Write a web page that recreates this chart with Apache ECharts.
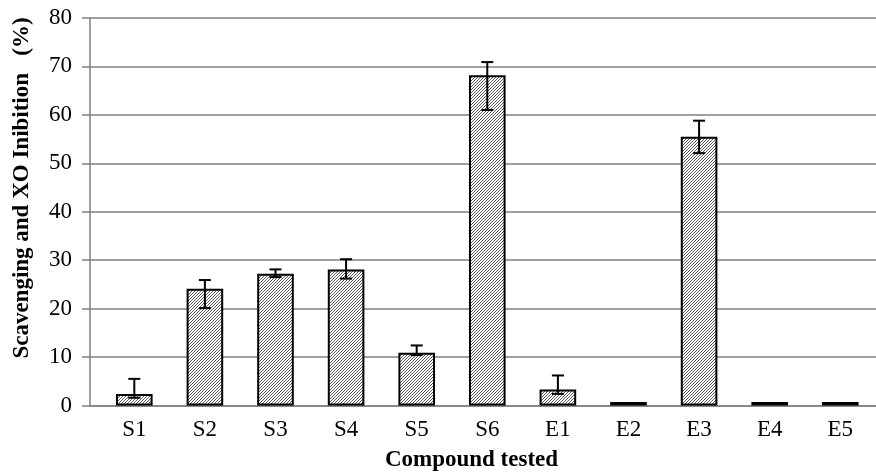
<!DOCTYPE html>
<html>
<head>
<meta charset="utf-8">
<script src="https://cdn.jsdelivr.net/npm/echarts@6/dist/echarts.min.js"></script>
<style>html,body{margin:0;padding:0;background:#fff;}#c{width:876px;height:474px;}</style>
</head>
<body>
<div id="c"></div>
<script>
const categories = ['S1','S2','S3','S4','S5','S6','E1','E2','E3','E4','E5'];
const values =   [2.4, 24.1, 27.2, 28.1, 10.9, 68.2, 3.3, 0.7, 55.5, 0.7, 0.7];
const errLow =   [1.6, 20.1, 26.5, 26.2, 10.4, 61.0, 2.4, null, 52.1, null, null];
const errHigh =  [5.5, 25.9, 28.1, 30.2, 12.4, 70.9, 6.2, null, 58.8, null, null];
const yTicks = [0, 10, 20, 30, 40, 50, 60, 70, 80];

const FONT = '"Liberation Serif", "Times New Roman", serif';

// hatch pattern
const pc = document.createElement('canvas');
pc.width = 3; pc.height = 3;
const g = pc.getContext('2d');
g.fillStyle = '#ffffff';
g.fillRect(0, 0, 3, 3);
g.strokeStyle = '#4a4a4a';
g.lineWidth = 0.9;
g.beginPath();
g.moveTo(-1, 4); g.lineTo(4, -1);
g.moveTo(-1, 1); g.lineTo(1, -1);
g.moveTo(2, 4); g.lineTo(4, 2);
g.stroke();

const chart = echarts.init(document.getElementById('c'), null, {renderer: 'canvas'});

const barData = values.map((v, i) => [i, v]);
const errData = [];
errLow.forEach((lo, i) => { if (lo != null) errData.push([i, lo, errHigh[i]]); });

chart.setOption({
  animation: false,
  backgroundColor: '#fff',
  grid: {left: 90, right: 0, top: 18, bottom: 68.5},
  xAxis: {
    type: 'value',
    min: -0.6275, max: 10.506,
    splitLine: {show: false},
    axisLine: {show: true, onZero: false, lineStyle: {color: '#808080', width: 1.5}},
    axisTick: {show: false},
    axisLabel: {
      customValues: categories.map((c, i) => i),
      formatter: v => categories[Math.round(v)],
      fontFamily: FONT, fontSize: 23, color: '#000', margin: 13
    }
  },
  yAxis: {
    type: 'value',
    min: 0, max: 80, interval: 10,
    axisLine: {show: true, onZero: false, lineStyle: {color: '#808080', width: 1.5}},
    axisTick: {show: true, length: 8, lineStyle: {color: '#808080', width: 1.5}},
    splitLine: {show: true, lineStyle: {color: '#808080', width: 1.5}},
    axisLabel: {
      formatter: v => yTicks.includes(v) ? String(v) : '',
      fontFamily: FONT, fontSize: 23, color: '#000', margin: 18
    }
  },
  graphic: [
    {type: 'text', x: 471.5, y: 460, style: {
      text: 'Compound tested', font: 'bold 23px ' + FONT, fill: '#000',
      x: 0, y: 0, align: 'center', verticalAlign: 'middle'}},
    {type: 'text', rotation: Math.PI / 2, x: 22, y: 188, style: {
      text: 'Scavenging and XO Inibition   (%)', font: 'bold 23px ' + FONT, fill: '#000',
      x: 0, y: 0, align: 'center', verticalAlign: 'middle'}}
  ],
  series: [
    {
      type: 'bar',
      data: barData,
      barWidth: 36.6,
      itemStyle: {color: {image: pc, repeat: 'repeat'}, borderColor: '#000', borderWidth: 2}
    },
    {
      type: 'custom',
      data: errData,
      z: 10,
      renderItem: (params, api) => {
        const x = api.value(0);
        const lo = api.coord([x, api.value(1)]);
        const hi = api.coord([x, api.value(2)]);
        const hw = 6;
        const st = {stroke: '#000', lineWidth: 2};
        return {type: 'group', children: [
          {type: 'line', shape: {x1: lo[0], y1: lo[1], x2: hi[0], y2: hi[1]}, style: st},
          {type: 'line', shape: {x1: lo[0] - hw, y1: lo[1], x2: lo[0] + hw, y2: lo[1]}, style: st},
          {type: 'line', shape: {x1: hi[0] - hw, y1: hi[1], x2: hi[0] + hw, y2: hi[1]}, style: st}
        ]};
      }
    }
  ]
});
</script>
</body>
</html>
